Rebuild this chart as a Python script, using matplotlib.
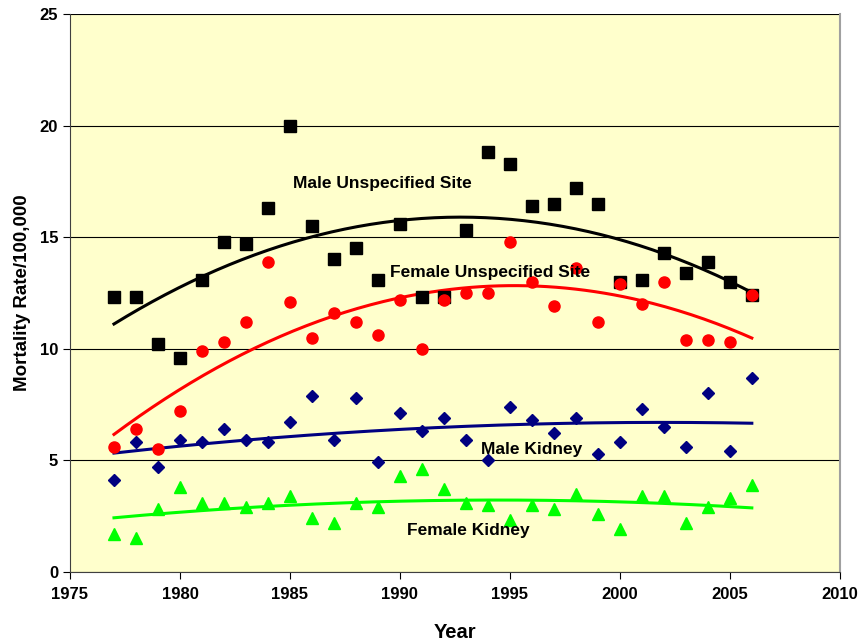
import numpy as np
import matplotlib.pyplot as plt

plt.rcParams['font.family'] = ['Liberation Sans', 'DejaVu Sans']
plt.rcParams['font.weight'] = 'bold'

years = list(range(1977, 2007))
male_unspec = [12.3, 12.3, 10.2, 9.6, 13.1, 14.8, 14.7, 16.3, 20.0, 15.5,
               14.0, 14.5, 13.1, 15.6, 12.3, 12.3, 15.3, 18.8, 18.3, 16.4,
               16.5, 17.2, 16.5, 13.0, 13.1, 14.3, 13.4, 13.9, 13.0, 12.4]
female_unspec = [5.6, 6.4, 5.5, 7.2, 9.9, 10.3, 11.2, 13.9, 12.1, 10.5,
                 11.6, 11.2, 10.6, 12.2, 10.0, 12.2, 12.5, 12.5, 14.8, 13.0,
                 11.9, 13.6, 11.2, 12.9, 12.0, 13.0, 10.4, 10.4, 10.3, 12.4]
male_kidney = [4.1, 5.8, 4.7, 5.9, 5.8, 6.4, 5.9, 5.8, 6.7, 7.9,
               5.9, 7.8, 4.9, 7.1, 6.3, 6.9, 5.9, 5.0, 7.4, 6.8,
               6.2, 6.9, 5.3, 5.8, 7.3, 6.5, 5.6, 8.0, 5.4, 8.7]
female_kidney = [1.7, 1.5, 2.8, 3.8, 3.1, 3.1, 2.9, 3.1, 3.4, 2.4,
                 2.2, 3.1, 2.9, 4.3, 4.6, 3.7, 3.1, 3.0, 2.3, 3.0,
                 2.8, 3.5, 2.6, 1.9, 3.4, 3.4, 2.2, 2.9, 3.3, 3.9]

series = [
    ("Male Unspecified Site", male_unspec, "black", "s", 8, (1989.2, 17.4)),
    ("Female Unspecified Site", female_unspec, "#FF0000", "o", 8, (1994.1, 13.4)),
    ("Male Kidney", male_kidney, "#000080", "D", 6, (1996.0, 5.5)),
    ("Female Kidney", female_kidney, "#00FF00", "^", 8, (1993.1, 1.85)),
]

fig = plt.figure(figsize=(8.64, 6.41), dpi=100)
ax = fig.add_axes([0.081, 0.108, 0.891, 0.870])
ax.set_facecolor("#FFFFCC")

x = np.array(years)
for name, vals, col, mk, ms, (tx, ty) in series:
    ax.plot(x, vals, linestyle="none", marker=mk, color=col, markersize=ms, zorder=3)
    # 2nd order polynomial trend line
    coef = np.polyfit(x - 1990, vals, 2)
    xf = np.linspace(x.min(), x.max(), 200)
    ax.plot(xf, np.polyval(coef, xf - 1990), color=col, linewidth=2.2, zorder=2)
    ax.text(tx, ty, name, ha="center", va="center", fontsize=12.5, fontweight="bold")

ax.set_xlim(1975, 2010)
ax.set_ylim(0, 25)
ax.set_xticks(range(1975, 2011, 5))
ax.set_yticks(range(0, 26, 5))
ax.yaxis.grid(True, color="black", linewidth=0.8)
ax.set_axisbelow(True)
ax.tick_params(direction="out", length=5, labelsize=12)
ax.tick_params(axis="x", pad=6)
for lab in ax.get_xticklabels() + ax.get_yticklabels():
    lab.set_fontweight("bold")
ax.spines["top"].set_visible(False)
ax.spines["right"].set_color("#A0A0A0")
ax.spines["right"].set_linewidth(1.5)
ax.spines["left"].set_color("#404040")
ax.spines["bottom"].set_color("#404040")

ax.set_xlabel("Year", fontsize=14.5, fontweight="bold", labelpad=15)
ax.set_ylabel("Mortality Rate/100,000", fontsize=13.5, fontweight="bold", labelpad=6)

fig.savefig("out.png", dpi=100)
